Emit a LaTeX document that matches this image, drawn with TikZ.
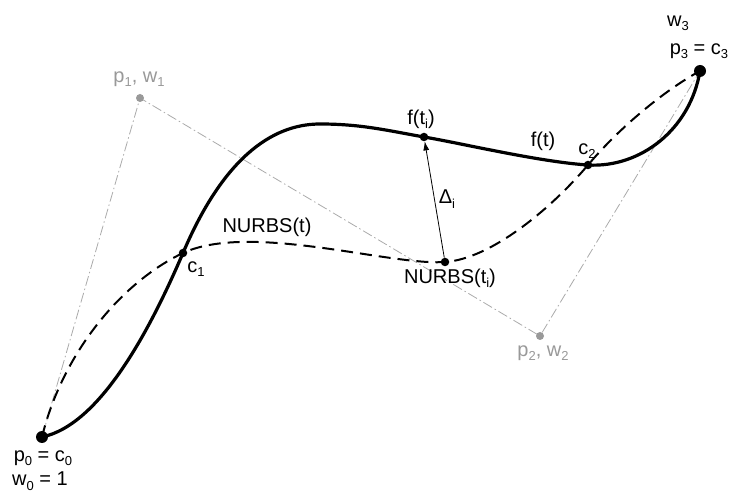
\documentclass[tikz,border=0pt]{standalone}
\usepackage{fontspec}
\setmainfont{Liberation Sans}
\usetikzlibrary{arrows.meta}
\definecolor{polyc}{HTML}{AAAAAA}
\definecolor{ptc}{HTML}{999999}
\newcommand\lsub[1]{\raisebox{-0.22em}{\fontsize{13}{13}\selectfont #1}}
\tikzset{
  lab/.style={inner sep=0pt, font=\fontsize{20}{22}\selectfont},
  glab/.style={lab, text=ptc},
  bigdot/.style={circle, fill=black, inner sep=0pt, minimum size=12pt},
  smalldot/.style={circle, fill=black, inner sep=0pt, minimum size=8.5pt},
  graydot/.style={circle, fill=ptc, inner sep=0pt, minimum size=8pt},
  polyline/.style={polyc, line width=0.8pt, dash pattern=on 10pt off 3pt on 1.5pt off 3pt},
  fcurve/.style={line width=3.2pt},
  ncurve/.style={line width=2pt, dash pattern=on 12pt off 7pt},
}
\begin{document}
\begin{tikzpicture}[x=1pt,y=-1pt]
\useasboundingbox (0,0) rectangle (729,494);
% key points
\coordinate (P0) at (42,437);
\coordinate (P1) at (140,98);
\coordinate (P2) at (540,336);
\coordinate (P3) at (700,71);
\coordinate (C1) at (183,253);
\coordinate (C2) at (588,165);
\coordinate (FT) at (424,137);
\coordinate (NT) at (445,262);
\coordinate (TOP) at (320,124);
% control polygon
\draw[polyline] (P0) -- (P1) -- (P2) -- (P3);
% NURBS dashed curve
\draw[ncurve] (P0) .. controls (62,355) and (120,283) .. (C1)
  .. controls (250,222) and (390,266) .. (NT)
  .. controls (490,259) and (550,210) .. (C2)
  .. controls (620,127) and (665,90) .. (P3);
% f(t) solid curve
\draw[fcurve] (P0) .. controls (100,425) and (150,330) .. (C1)
  .. controls (222,161) and (270,124) .. (TOP)
  .. controls (360,124) and (385,130) .. (FT)
  .. controls (460,143) and (540,162) .. (C2)
  .. controls (640,168) and (690,130) .. (P3);
% dots
\node[bigdot] (p0) at (P0) {};
\node[bigdot] (p3) at (P3) {};
\node[graydot] (p1) at (P1) {};
\node[graydot] (p2) at (P2) {};
\node[smalldot] (c1) at (C1) {};
\node[smalldot] (c2) at (C2) {};
\node[smalldot] (ft) at (FT) {};
\node[smalldot] (nt) at (NT) {};
% deviation arrow
\draw[line width=0.8pt, -{Latex[length=9pt,width=6pt]}] (nt) -- (ft);
% labels
\node[lab] (lw3) at (678,23) {w\lsub{3}};
\node[lab] (lp3) at (699,51) {p\lsub{3} = c\lsub{3}};
\node[lab] (lp0) at (43,458) {p\lsub{0} = c\lsub{0}};
\node[lab] (lw0) at (40,481) {w\lsub{0} = 1};
\node[glab] (lp1) at (139,79) {p\lsub{1}, w\lsub{1}};
\node[glab] (lp2) at (543,353) {p\lsub{2}, w\lsub{2}};
\node[lab] (lc1) at (196,269) {c\lsub{1}};
\node[lab] (lc2) at (587,151) {c\lsub{2}};
\node[lab] (lft) at (421,119) {f(t\lsub{i})};
\node[lab] (lf) at (543,141) {f(t)};
\node[lab] (ld) at (447,199) {Δ\lsub{i}};
\node[lab] (lnt) at (450,278) {NURBS(t\lsub{i})};
\node[lab] (ln) at (267,227) {NURBS(t)};
\end{tikzpicture}
\end{document}
